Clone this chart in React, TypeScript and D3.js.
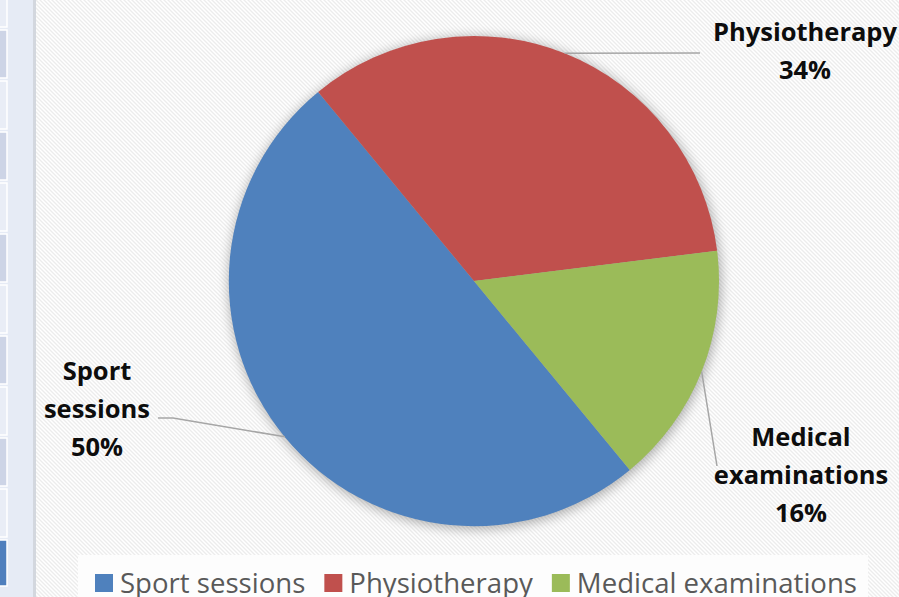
import React from "react";
import * as d3 from "d3";

const categories = ["Sport sessions", "Physiotherapy", "Medical examinations"];
const values = [50, 34, 16];
const percentLabels = ["50%", "34%", "16%"];
const labelLines = [["Sport", "sessions"], ["Physiotherapy"], ["Medical", "examinations"]];
const colors = ["#4f81bd", "#c0504d", "#9bbb59"];
// side panel rows of the window behind the chart
const panelRows = ["light", "dark", "light", "dark", "light", "dark", "light", "dark", "light", "dark", "light", "blue"];

const W = 899;
const H = 597;

// where each data label sits: text centre x, first baseline y, leader end points
const labelLayout = [
  { x: 97, y: 380, line: [[173, 418], [158, 418]] },
  { x: 805, y: 41, line: [[700, 53]] },
  { x: 801, y: 446, line: [[717, 466]] },
];

const App = () => {
  const svgRef = React.useRef<SVGSVGElement>(null);

  React.useEffect(() => {
    const svgEl = d3.select(svgRef.current);
    svgEl.selectAll("*").remove();

    const defs = svgEl.append("defs");
    const pat = defs.append("pattern")
      .attr("id", "hatch")
      .attr("width", 4)
      .attr("height", 4)
      .attr("patternUnits", "userSpaceOnUse");
    pat.append("rect").attr("width", 4).attr("height", 4).attr("fill", "#ffffff");
    pat.append("path")
      .attr("d", "M0,0 L4,4 M-1,3 L1,5 M3,-1 L5,1")
      .attr("stroke", "#ececec")
      .attr("stroke-width", 1.3);
    const blur = defs.append("filter")
      .attr("id", "shadow")
      .attr("x", "-20%").attr("y", "-20%")
      .attr("width", "140%").attr("height", "140%");
    blur.append("feGaussianBlur").attr("stdDeviation", 6);

    // left side panel (part of the surrounding window)
    svgEl.append("rect").attr("x", 0).attr("y", 0).attr("width", 34).attr("height", H).attr("fill", "#e6ebf5");
    const rowColor: Record<string, string> = { light: "#e9edf6", dark: "#cdd4e6", blue: "#4f7fbd" };
    panelRows.forEach((kind, i) => {
      const top = -21 + i * 51;
      svgEl.append("rect")
        .attr("x", -1)
        .attr("y", top)
        .attr("width", 8)
        .attr("height", kind === "blue" ? 46 : 48)
        .attr("fill", rowColor[kind])
        .attr("stroke", "#ffffff")
        .attr("stroke-width", 1.5);
    });
    svgEl.append("rect").attr("x", 33).attr("y", 0).attr("width", 3).attr("height", H).attr("fill", "#d3d7de");

    // chart area
    svgEl.append("rect").attr("x", 36).attr("y", 0).attr("width", W - 36).attr("height", H).attr("fill", "url(#hatch)");

    const cx = 474;
    const cy = 281;
    const radius = 245;
    const g = svgEl.append("g").attr("transform", `translate(${cx},${cy})`);

    g.append("circle")
      .attr("r", radius + 1)
      .attr("cx", 1)
      .attr("cy", 2)
      .attr("fill", "#000")
      .attr("opacity", 0.3)
      .attr("filter", "url(#shadow)");

    const start = (140.5 * Math.PI) / 180;
    const pie = d3.pie<number>().sort(null).startAngle(start).endAngle(start + 2 * Math.PI);
    const arcs = pie(values);
    const arc = d3.arc<d3.PieArcDatum<number>>().innerRadius(0).outerRadius(radius);

    g.selectAll("path.slice")
      .data(arcs)
      .enter()
      .append("path")
      .attr("class", "slice")
      .attr("d", (d) => arc(d) as string)
      .attr("fill", (d, i) => colors[i]);

    // leader lines and data labels
    arcs.forEach((d, i) => {
      const mid = (d.startAngle + d.endAngle) / 2;
      const ex = cx + radius * Math.sin(mid);
      const ey = cy - radius * Math.cos(mid);
      const pts: [number, number][] = [[ex, ey], ...(labelLayout[i].line as [number, number][])];
      svgEl.append("path")
        .attr("d", d3.line()(pts) as string)
        .attr("fill", "none")
        .attr("stroke", "#a6a6a6")
        .attr("stroke-width", 1.5);

      const lines = [...labelLines[i], percentLabels[i]];
      const t = svgEl.append("text")
        .attr("text-anchor", "middle")
        .attr("font-family", "'Open Sans', 'Noto Sans', sans-serif")
        .attr("font-weight", 700)
        .attr("font-size", 25.5)
        .attr("fill", "#0d0d0d");
      lines.forEach((s, k) => {
        t.append("tspan")
          .attr("x", labelLayout[i].x)
          .attr("y", labelLayout[i].y + k * 38)
          .text(s);
      });
    });

    // legend
    svgEl.append("rect")
      .attr("x", 78).attr("y", 555).attr("width", 790).attr("height", 50)
      .attr("fill", "#fdfdfd");
    const legend = svgEl.append("g");
    const legendLeft = 95;
    const legendRight = 857;
    const texts = categories.map((c, i) =>
      legend.append("text")
        .attr("y", 593)
        .attr("font-family", "'Open Sans', 'Noto Sans', sans-serif")
        .attr("font-size", 28)
        .attr("fill", "#595959")
        .text(c)
    );
    const natural = texts.map((t) => (t.node() as SVGTextElement).getComputedTextLength());
    const fixed = categories.length * (18 + 7) + (categories.length - 1) * 19;
    const squeeze = (legendRight - legendLeft - fixed) / d3.sum(natural);
    let x = legendLeft;
    categories.forEach((c, i) => {
      legend.append("rect")
        .attr("x", x).attr("y", 574).attr("width", 18).attr("height", 18)
        .attr("fill", colors[i]);
      const w = natural[i] * squeeze;
      texts[i]
        .attr("x", x + 25)
        .attr("textLength", w)
        .attr("lengthAdjust", "spacingAndGlyphs");
      x += 25 + w + 19;
    });
  }, []);

  return (
    <svg
      ref={svgRef}
      width={W}
      height={H}
      style={{ position: "absolute", left: 0, top: 0 }}
    />
  );
};

export default App;
